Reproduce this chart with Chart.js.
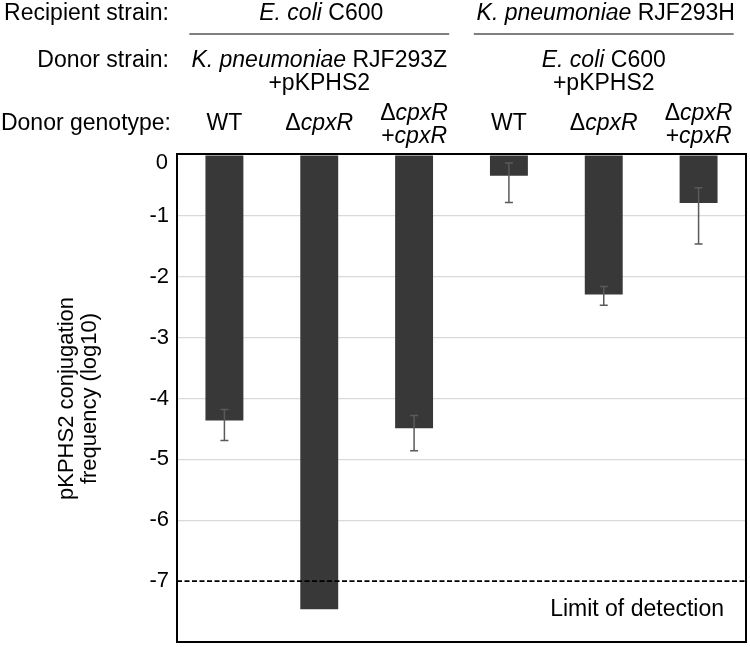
<!DOCTYPE html>
<html>
<head>
<meta charset="utf-8">
<script src="https://cdn.jsdelivr.net/npm/chart.js@4.4.1/dist/chart.umd.min.js"></script>
<style>
  body { margin: 0; background: #fff; }
  #wrap { width: 750px; height: 647px; position: relative; }
</style>
</head>
<body>
<div id="wrap"><canvas id="conjChart"></canvas></div>
<script>
// Data (log10 conjugation frequency)
const categories = ['WT', 'Δ_cpxR_', ['Δ_cpxR_', '+_cpxR_'], 'WT', 'Δ_cpxR_', ['Δ_cpxR_', '+_cpxR_']];
const values = [-4.36, -7.46, -4.49, -0.34, -2.29, -0.79];
const errUpper = [-4.18, null, -4.28, -0.13, -2.16, -0.54];
const errLower = [-4.69, null, -4.86, -0.78, -2.47, -1.46];
const yTicks = [0, -1, -2, -3, -4, -5, -6, -7];
const detectionLimit = -7;

const recipients = ['_E. coli_ C600', '_K. pneumoniae_ RJF293H'];
const donors = [['_K. pneumoniae_ RJF293Z', '+pKPHS2'], ['_E. coli_ C600', '+pKPHS2']];
const rowLabels = ['Recipient strain:', 'Donor strain:', 'Donor genotype:'];
const yTitle = ['pKPHS2 conjugation', 'frequency (log10)'];

const FONT = '"Liberation Sans", Arial, sans-serif';
const FS = 23;

// draw text where _..._ parts are italic
function richText(ctx, str, x, y, align, size) {
    const fs = size || FS;
    const parts = str.split('_').map((t, i) => ({ t, it: i % 2 === 1 })).filter(p => p.t);
    let w = 0;
    parts.forEach(p => {
        ctx.font = (p.it ? 'italic ' : '') + fs + 'px ' + FONT;
        p.w = ctx.measureText(p.t).width;
        w += p.w;
    });
    let sx = align === 'right' ? x - w : align === 'left' ? x : x - w / 2;
    ctx.textAlign = 'left';
    parts.forEach(p => {
        ctx.font = (p.it ? 'italic ' : '') + fs + 'px ' + FONT;
        ctx.fillText(p.t, sx, y);
        sx += p.w;
    });
}

const decorPlugin = {
    id: 'decor',
    afterDatasetsDraw(chart) {
        const ctx = chart.ctx;
        const xs = chart.scales.x, ys = chart.scales.y;
        const a = chart.chartArea;
        ctx.save();

        // limit of detection
        const yl = ys.getPixelForValue(detectionLimit);
        ctx.strokeStyle = '#000';
        ctx.lineWidth = 1.8;
        ctx.setLineDash([5, 2.5]);
        ctx.beginPath();
        ctx.moveTo(a.left, yl);
        ctx.lineTo(a.right, yl);
        ctx.stroke();
        ctx.setLineDash([]);
        ctx.fillStyle = '#000';
        ctx.textBaseline = 'alphabetic';
        richText(ctx, 'Limit of detection', a.right - 22, yl + 35, 'right');

        // error bars
        ctx.strokeStyle = '#5a5a5a';
        ctx.lineWidth = 1.5;
        values.forEach((v, i) => {
            if (errUpper[i] === null) return;
            const x = xs.getPixelForValue(i);
            const y1 = ys.getPixelForValue(errUpper[i]);
            const y2 = ys.getPixelForValue(errLower[i]);
            ctx.beginPath();
            ctx.moveTo(x, y1); ctx.lineTo(x, y2);
            ctx.moveTo(x - 4, y1); ctx.lineTo(x + 4, y1);
            ctx.moveTo(x - 4, y2); ctx.lineTo(x + 4, y2);
            ctx.stroke();
        });

        // frame
        ctx.strokeStyle = '#000';
        ctx.lineWidth = 2;
        ctx.strokeRect(a.left, a.top - 1, a.right - a.left, a.bottom - a.top + 1);

        // top tick label sits a little below the frame
        ctx.textBaseline = 'middle';
        richText(ctx, String(yTicks[0]), a.left - 9, ys.getPixelForValue(yTicks[0]) + 8, 'right', 22);
        ctx.textBaseline = 'alphabetic';

        // header rows
        ctx.fillStyle = '#000';
        richText(ctx, rowLabels[0], 169, 20, 'right');
        richText(ctx, rowLabels[1], 169, 67, 'right');
        richText(ctx, rowLabels[2], 171, 130, 'right');

        const step = xs.getPixelForValue(1) - xs.getPixelForValue(0);
        [0, 1].forEach(g => {
            const cx = (xs.getPixelForValue(g * 3) + xs.getPixelForValue(g * 3 + 2)) / 2;
            richText(ctx, recipients[g], cx + 2, 20, 'center');
            ctx.strokeStyle = '#000';
            ctx.lineWidth = 1.2;
            ctx.beginPath();
            ctx.moveTo(cx - 1.37 * step, 34);
            ctx.lineTo(cx + 1.37 * step, 34);
            ctx.stroke();
            richText(ctx, donors[g][0], cx, 67, 'center');
            richText(ctx, donors[g][1], cx, 90, 'center');
        });

        categories.forEach((c, i) => {
            const x = xs.getPixelForValue(i);
            if (Array.isArray(c)) {
                richText(ctx, c[0], x, 120, 'center');
                richText(ctx, c[1], x, 143, 'center');
            } else {
                richText(ctx, c, x, 130, 'center');
            }
        });

        // y axis title
        ctx.translate(78, (a.top + a.bottom) / 2);
        ctx.rotate(-Math.PI / 2);
        richText(ctx, yTitle[0], 0, -5, 'center', 22);
        richText(ctx, yTitle[1], 0, 18, 'center', 22);
        ctx.restore();
    }
};

new Chart(document.getElementById('conjChart'), {
    type: 'bar',
    data: {
        labels: categories.map(c => Array.isArray(c) ? c.join(' ') : c),
        datasets: [{
            data: values,
            backgroundColor: '#383838',
            borderWidth: 0,
            barPercentage: 0.4,
            categoryPercentage: 1
        }]
    },
    options: {
        responsive: true,
        maintainAspectRatio: false,
        animation: false,
        layout: { padding: { left: 0, top: 155, right: 4, bottom: 5 } },
        plugins: { legend: { display: false }, tooltip: { enabled: false } },
        scales: {
            x: { display: false },
            y: {
                min: -8,
                max: 0,
                afterFit: s => { s.width = 177; s.paddingTop = 0; s.paddingBottom = 0; },
                afterBuildTicks: s => { s.ticks = [-8].concat(yTicks.slice().reverse()).map(v => ({ value: v })); },
                ticks: {
                    color: '#000',
                    padding: 8,
                    font: { family: FONT, size: 22 },
                    callback: v => (yTicks.includes(v) && v !== yTicks[0] ? String(v) : '')
                },
                grid: {
                    drawTicks: false,
                    color: c => (c.tick && c.tick.value <= -1 && c.tick.value >= -6 ? '#d9d9d9' : 'rgba(0,0,0,0)'),
                    lineWidth: 1.2
                },
                border: { display: false }
            }
        }
    },
    plugins: [decorPlugin]
});
</script>
</body>
</html>
